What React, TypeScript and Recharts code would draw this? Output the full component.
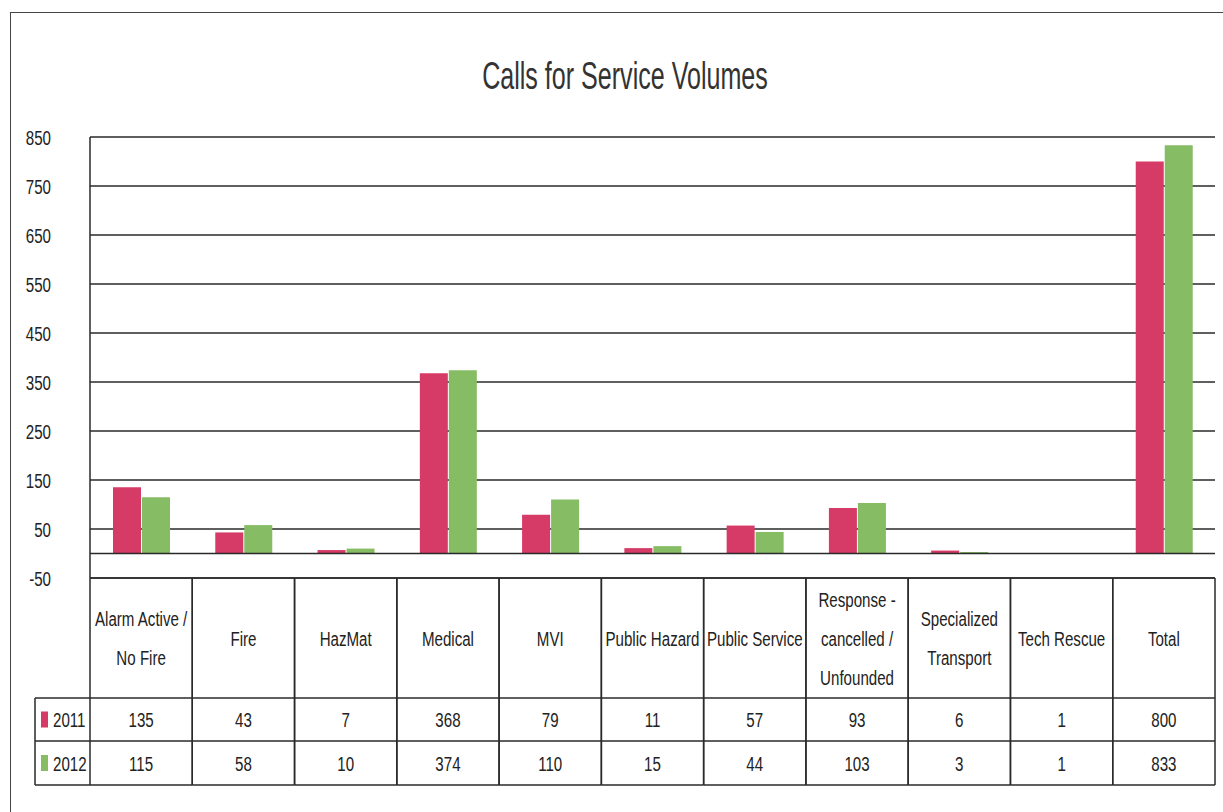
import React from "react";
import { BarChart, Bar, XAxis, YAxis, CartesianGrid, ReferenceLine } from "recharts";

const categories = [
  "Alarm Active /\nNo Fire",
  "Fire",
  "HazMat",
  "Medical",
  "MVI",
  "Public Hazard",
  "Public Service",
  "Response -\ncancelled /\nUnfounded",
  "Specialized\nTransport",
  "Tech Rescue",
  "Total",
];
const series2011 = [135, 43, 7, 368, 79, 11, 57, 93, 6, 1, 800];
const series2012 = [115, 58, 10, 374, 110, 15, 44, 103, 3, 1, 833];
const seriesNames = ["2011", "2012"];
const seriesColors = ["#d63a66", "#86bc64"];
const yTicks = [-50, 50, 150, 250, 350, 450, 550, 650, 750, 850];
const title = "Calls for Service Volumes";

const data = categories.map((c, i) => ({ name: c, s2011: series2011[i], s2012: series2012[i] }));
const seriesValues = [series2011, series2012];

const FONT = "'Liberation Sans', Arial, sans-serif";
const LINE = "#2a2a2a";
const HEADER_H = 120;
const ROW_H = [43, 44];
const SX = 0.72;

function CText(props: any) {
  const { x, y, anchor = "middle", size = 20, children } = props;
  return (
    <text
      transform={`translate(${x},${y}) scale(${SX},1)`}
      x={0}
      y={0}
      dy={size * 0.36}
      textAnchor={anchor}
      fontFamily={FONT}
      fontSize={size}
      fill="#222"
    >
      {children}
    </text>
  );
}

function YTick(props: any) {
  const { y, payload } = props;
  return (
    <CText x={51} y={y} anchor="end" size={21}>
      {payload.value}
    </CText>
  );
}

function TableTick(props: any) {
  const { x, y, payload, index, width } = props;
  const i = payload.index ?? index;
  const band = width / categories.length;
  const left = x - band / 2;
  const top = y;
  const lines = String(payload.value).split("\n");
  const lh = 39;
  const cy = top + HEADER_H / 2;
  const startY = cy - ((lines.length - 1) * lh) / 2;
  const rowTops = [top + HEADER_H, top + HEADER_H + ROW_H[0]];
  const bottom = top + HEADER_H + ROW_H[0] + ROW_H[1];
  return (
    <g>
      <line x1={left} y1={top} x2={left} y2={bottom} stroke={LINE} strokeWidth={1.5} />
      <line x1={left + band} y1={top} x2={left + band} y2={bottom} stroke={LINE} strokeWidth={1.5} />
      <line x1={left} y1={rowTops[0]} x2={left + band} y2={rowTops[0]} stroke={LINE} strokeWidth={1.5} />
      <line x1={left} y1={rowTops[1]} x2={left + band} y2={rowTops[1]} stroke={LINE} strokeWidth={1.5} />
      <line x1={left} y1={bottom} x2={left + band} y2={bottom} stroke={LINE} strokeWidth={1.5} />
      {lines.map((l, k) => (
        <CText key={k} x={x} y={startY + k * lh} size={21}>
          {l}
        </CText>
      ))}
      {seriesValues.map((vals, r) => (
        <CText key={r} x={x} y={rowTops[r] + ROW_H[r] / 2} size={21}>
          {vals[i]}
        </CText>
      ))}
      {i === 0 && (
        <g>
          <line x1={left - 55} y1={rowTops[0]} x2={left} y2={rowTops[0]} stroke={LINE} strokeWidth={1.5} />
          <line x1={left - 55} y1={rowTops[1]} x2={left} y2={rowTops[1]} stroke={LINE} strokeWidth={1.5} />
          <line x1={left - 55} y1={bottom} x2={left} y2={bottom} stroke={LINE} strokeWidth={1.5} />
          <line x1={left - 55} y1={rowTops[0]} x2={left - 55} y2={bottom} stroke={LINE} strokeWidth={1.5} />
          {seriesNames.map((n, r) => (
            <g key={n}>
              <rect x={left - 49} y={rowTops[r] + ROW_H[r] / 2 - 8} width={7} height={16} fill={seriesColors[r]} />
              <CText x={left - 37} y={rowTops[r] + ROW_H[r] / 2} anchor="start" size={21}>
                {n}
              </CText>
            </g>
          ))}
        </g>
      )}
    </g>
  );
}

export default function App() {
  return (
    <div style={{ position: "absolute", left: 0, top: 0, width: 1223, height: 812, background: "#fff" }}>
      <div
        style={{
          position: "absolute",
          left: 10,
          top: 12,
          width: 1213,
          height: 800,
          borderLeft: "1.5px solid #444",
          borderTop: "1.5px solid #444",
        }}
      />
      <div style={{ position: "absolute", left: 0, top: 0 }}>
        <BarChart
          width={1223}
          height={812}
          data={data}
          margin={{ top: 137, right: 8, left: 0, bottom: 27 }}
          barSize={28}
          barGap={1}
        >
          <text
            transform={`translate(625,76) scale(0.66,1)`}
            x={0}
            y={0}
            dy={13}
            textAnchor="middle"
            fontFamily={FONT}
            fontSize={38}
            fill="#333"
          >
            {title}
          </text>
          <CartesianGrid vertical={false} stroke={LINE} strokeWidth={1.5} />
          <YAxis
            width={90}
            domain={[-50, 850]}
            ticks={yTicks}
            interval={0}
            tick={<YTick />}
            tickLine={false}
            axisLine={{ stroke: LINE, strokeWidth: 1.5 }}
          />
          <XAxis
            dataKey="name"
            height={207}
            interval={0}
            tick={<TableTick />}
            tickLine={false}
            tickSize={0}
            tickMargin={0}
            axisLine={{ stroke: LINE, strokeWidth: 1.5 }}
          />
          <ReferenceLine y={0} stroke={LINE} strokeWidth={1.5} />
          <Bar dataKey="s2011" name={seriesNames[0]} fill={seriesColors[0]} isAnimationActive={false} />
          <Bar dataKey="s2012" name={seriesNames[1]} fill={seriesColors[1]} isAnimationActive={false} />
        </BarChart>
      </div>
    </div>
  );
}
